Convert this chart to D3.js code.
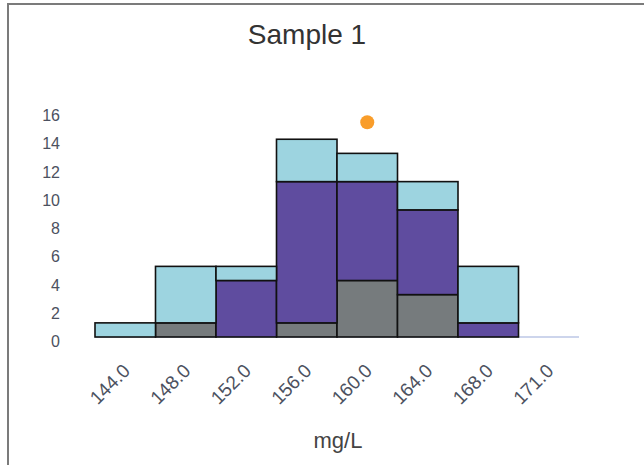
<!DOCTYPE html>
<html>
<head>
<meta charset="utf-8">
<script src="https://cdn.jsdelivr.net/npm/d3@7/dist/d3.min.js"></script>
<style>
  body { margin: 0; background: #fff; }
  svg { display: block; font-family: "Liberation Sans", Arial, sans-serif; }
</style>
</head>
<body>
<div id="chart"></div>
<script>
// bins (x categories)
var bins = ['144.0', '148.0', '152.0', '156.0', '160.0', '164.0', '168.0', '171.0'];
// stacked counts per bin, bottom to top
var grayCounts = [0, 1, 0, 1, 4, 3, 0, 0];
var purpleCounts = [0, 0, 4, 10, 7, 6, 1, 0];
var blueCounts = [1, 4, 1, 3, 2, 2, 4, 0];
var yTicks = [0, 2, 4, 6, 8, 10, 12, 14, 16];
var markerBin = '160.0', markerValue = 15.2;

window.onload = function () {
	var width = 644, height = 465;
	var svg = d3.select('#chart').append('svg')
		.attr('width', width)
		.attr('height', height);

	// frame
	svg.append('path')
		.attr('d', 'M8,' + (height + 2) + 'L8,4L' + (width + 2) + ',4')
		.attr('fill', 'none')
		.attr('stroke', '#7b7b7b')
		.attr('stroke-width', 2);

	var x = d3.scaleBand().domain(bins).range([95, 579]).padding(0);
	var y = d3.scaleLinear().domain([0, 16]).range([337, 111]);

	var rows = bins.map(function (b, i) {
		return { bin: b, gray: grayCounts[i], purple: purpleCounts[i], blue: blueCounts[i] };
	});
	var keys = ['gray', 'purple', 'blue'];
	var colors = { gray: '#767b7d', purple: '#5f4c9f', blue: '#9dd4e0' };
	var series = d3.stack().keys(keys)(rows);

	// baseline
	svg.append('line')
		.attr('x1', x.range()[0]).attr('x2', x.range()[1])
		.attr('y1', y(0)).attr('y2', y(0))
		.attr('stroke', '#cdd5ec')
		.attr('stroke-width', 2);

	var groups = svg.append('g').selectAll('g')
		.data(series)
		.enter().append('g')
		.attr('fill', function (s) { return colors[s.key]; });

	groups.selectAll('rect')
		.data(function (s) { return s.filter(function (d) { return d[1] > d[0]; }); })
		.enter().append('rect')
		.attr('x', function (d) { return x(d.data.bin); })
		.attr('width', x.bandwidth())
		.attr('y', function (d) { return y(d[1]); })
		.attr('height', function (d) { return y(d[0]) - y(d[1]); })
		.attr('stroke', '#111')
		.attr('stroke-width', 1.6);

	// marker
	svg.append('circle')
		.attr('cx', x(markerBin) + x.bandwidth() / 2)
		.attr('cy', y(markerValue))
		.attr('r', 7)
		.attr('fill', '#f99d2a');

	// y tick labels
	svg.append('g').selectAll('text')
		.data(yTicks)
		.enter().append('text')
		.attr('x', 60)
		.attr('y', function (d) { return y(d) + 10; })
		.attr('text-anchor', 'end')
		.attr('font-size', 16)
		.attr('fill', '#4c5160')
		.text(function (d) { return d; });

	// x tick labels
	svg.append('g').selectAll('text')
		.data(bins)
		.enter().append('text')
		.attr('transform', function (d) {
			return 'translate(' + (x(d) + x.bandwidth() / 2 + 6) + ',' + 372 + ') rotate(-45)';
		})
		.attr('text-anchor', 'end')
		.attr('font-size', 19)
		.attr('fill', '#4c5160')
		.text(function (d) { return d; });

	// titles
	svg.append('text')
		.attr('x', 307).attr('y', 44)
		.attr('text-anchor', 'middle')
		.attr('font-size', 28)
		.attr('fill', '#333')
		.text('Sample 1');

	svg.append('text')
		.attr('x', 338).attr('y', 448)
		.attr('text-anchor', 'middle')
		.attr('font-size', 22)
		.attr('fill', '#444')
		.text('mg/L');
};
</script>
</body>
</html>
